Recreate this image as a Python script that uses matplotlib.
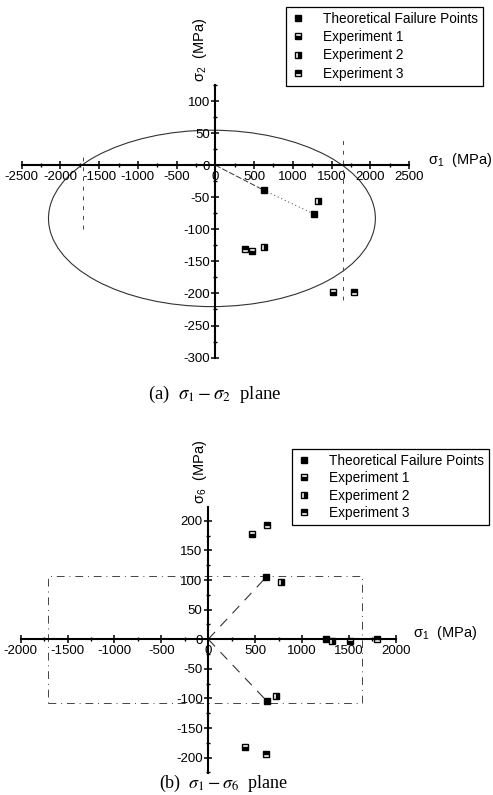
import numpy as np
import matplotlib
matplotlib.use("Agg")
import matplotlib.pyplot as plt
from matplotlib.patches import Ellipse, Rectangle
from matplotlib.ticker import MultipleLocator

plt.rcParams['font.family'] = ['Liberation Sans', 'DejaVu Sans']
plt.rcParams['mathtext.fontset'] = 'custom'
plt.rcParams['mathtext.rm'] = 'Liberation Sans'
plt.rcParams['mathtext.it'] = 'Liberation Sans:italic'
plt.rcParams['axes.unicode_minus'] = False

############# DATA #######################################

# (a) sigma1 - sigma2 plane
theory_a_s1 = [624, 1270]
theory_a_s2 = [-39, -76]
exp1_a_s1 = [473, 1524]
exp1_a_s2 = [-134, -197]
exp2_a_s1 = [628, 1322]
exp2_a_s2 = [-127, -56]
exp3_a_s1 = [387, 1791]
exp3_a_s2 = [-130, -197]
load_path_a_s1 = [0, 624, 1270]
load_path_a_s2 = [0, -39, -76]

# failure envelope (ellipse)
env_center = (-44, -83)
env_s1_span = 4220
env_s2_span = 275
# max stress limits in the sigma1 direction
limit_a_s1 = [-1710, 1645]
limit_a_lo = [-100, -210]
limit_a_hi = [12, 42]

# (b) sigma1 - sigma6 plane
theory_b_s1 = [619, 629, 1252]
theory_b_s6 = [105, -105, 0]
exp1_b_s1 = [469, 391, 1508]
exp1_b_s6 = [177, -182, -3]
exp2_b_s1 = [772, 719, 1323]
exp2_b_s6 = [96, -96, -3]
exp3_b_s1 = [629, 612, 1796]
exp3_b_s6 = [193, -194, 0]
load_up_s1 = [0, 619]
load_up_s6 = [0, 105]
load_dn_s1 = [0, 629]
load_dn_s6 = [0, -105]
box_s1 = [-1710, 1645]
box_s6 = [-107, 107]

xticks_a = np.arange(-2500, 2501, 500)
yticks_a = np.arange(-300, 101, 50)
xticks_b = np.arange(-2000, 2001, 500)
yticks_b = np.arange(-200, 201, 50)

legend_labels = ['Theoretical Failure Points', 'Experiment 1',
                 'Experiment 2', 'Experiment 3']

############# PLOTS ###############

def setup_axis(ax, xlim, ylim, xticks, yticks, xminor, yminor):
    ax.set_xlim(xlim)
    ax.set_ylim(ylim)
    for s in ['top', 'right']:
        ax.spines[s].set_visible(False)
    ax.spines['left'].set_position(('data', 0))
    ax.spines['bottom'].set_position(('data', 0))
    ax.spines['left'].set_linewidth(1.5)
    ax.spines['bottom'].set_linewidth(1.5)
    ax.set_xticks(xticks)
    ax.set_yticks(yticks)
    ax.xaxis.set_minor_locator(MultipleLocator(xminor))
    ax.yaxis.set_minor_locator(MultipleLocator(yminor))
    ax.tick_params(which='major', direction='inout', length=6, width=1.1,
                   labelsize=9.5, pad=1)
    ax.tick_params(which='minor', direction='inout', length=3, width=1)
    ax.patch.set_alpha(0)


def markers(ax, data):
    mk = dict(marker='s', ms=5, ls='none', mec='black', mfc='black',
              mew=1.0, markerfacecoloralt='white')
    h0, = ax.plot(data[0], data[1], **mk)
    h1, = ax.plot(data[2], data[3], fillstyle='bottom', **mk)
    h2, = ax.plot(data[4], data[5], fillstyle='right', **mk)
    h3, = ax.plot(data[6], data[7], fillstyle='top', **mk)
    return [h0, h1, h2, h3]


fig = plt.figure(figsize=(4.93, 7.95), dpi=100)

# ---- (a) ----
ax1 = fig.add_axes([0.0440, 0.5502, 0.7856, 0.3429])
setup_axis(ax1, (-2500, 2500), (-300, 125), xticks_a, yticks_a, 250, 25)

ax1.add_patch(Ellipse(env_center, env_s1_span, env_s2_span, fill=False,
                      ec='#333333', lw=0.8))
ax1.vlines(limit_a_s1, limit_a_lo, limit_a_hi, colors='#444444', lw=0.7,
           linestyles=(0, (4, 6)))
ax1.plot(load_path_a_s1[:2], load_path_a_s2[:2], color='#333333', lw=0.7,
         ls=(0, (6, 2)))
ax1.plot(load_path_a_s1[1:], load_path_a_s2[1:], color='#333333', lw=0.7,
         ls=(0, (1, 3)))
handles = markers(ax1, [theory_a_s1, theory_a_s2, exp1_a_s1, exp1_a_s2,
                        exp2_a_s1, exp2_a_s2, exp3_a_s1, exp3_a_s2])

leg = fig.legend(handles, legend_labels, loc='upper left',
                 bbox_to_anchor=(286 / 493, 1 - 7 / 795), fontsize=9.8,
                 fancybox=False, edgecolor='black', framealpha=1,
                 borderaxespad=0, labelspacing=0.32, handletextpad=1.3,
                 handlelength=1.1, borderpad=0.35)
leg.get_frame().set_linewidth(0.9)

fig.text(428 / 493, 1 - 160 / 795, 'σ$_1$  (MPa)', fontsize=10.5,
         ha='left', va='center')
fig.text(200 / 493, 1 - 50 / 795, 'σ$_2$  (MPa)', fontsize=10.5,
         ha='center', va='center', rotation=90)
fig.text(0.435, 1 - 394 / 795, r'(a)  $\sigma_1 - \sigma_2$  plane',
         fontsize=13.5, ha='center', va='center', family='Liberation Serif',
         math_fontfamily='stix')

# ---- (b) ----
ax2 = fig.add_axes([0.0420, 0.02767, 0.7606, 0.3350])
setup_axis(ax2, (-2000, 2000), (-226, 224), xticks_b, yticks_b, 250, 25)

ax2.add_patch(Rectangle((box_s1[0], box_s6[0]), box_s1[1] - box_s1[0],
                        box_s6[1] - box_s6[0], fill=False, ec='#444444',
                        lw=0.7, ls=(0, (8, 5, 1, 5))))
ax2.plot(load_up_s1, load_up_s6, color='#333333', lw=0.8, ls=(0, (9, 7)))
ax2.plot(load_dn_s1, load_dn_s6, color='#333333', lw=0.8, ls=(0, (9, 7)))
handles = markers(ax2, [theory_b_s1, theory_b_s6, exp1_b_s1, exp1_b_s6,
                        exp2_b_s1, exp2_b_s6, exp3_b_s1, exp3_b_s6])

leg = fig.legend(handles, legend_labels, loc='upper left',
                 bbox_to_anchor=(292 / 493, 1 - 449 / 795), fontsize=9.8,
                 fancybox=False, edgecolor='black', framealpha=1,
                 borderaxespad=0, labelspacing=0.25, handletextpad=1.3,
                 handlelength=1.1, borderpad=0.35)
leg.get_frame().set_linewidth(0.9)

fig.text(413 / 493, 1 - 633 / 795, 'σ$_1$  (MPa)', fontsize=10.5,
         ha='left', va='center')
fig.text(200 / 493, 1 - 472 / 795, 'σ$_6$  (MPa)', fontsize=10.5,
         ha='center', va='center', rotation=90)
fig.text(0.454, 1 - 783 / 795, r'(b)  $\sigma_1 - \sigma_6$  plane',
         fontsize=13, ha='center', va='center', family='Liberation Serif',
         math_fontfamily='stix')

plt.savefig("out.png", dpi=100)
plt.close()
